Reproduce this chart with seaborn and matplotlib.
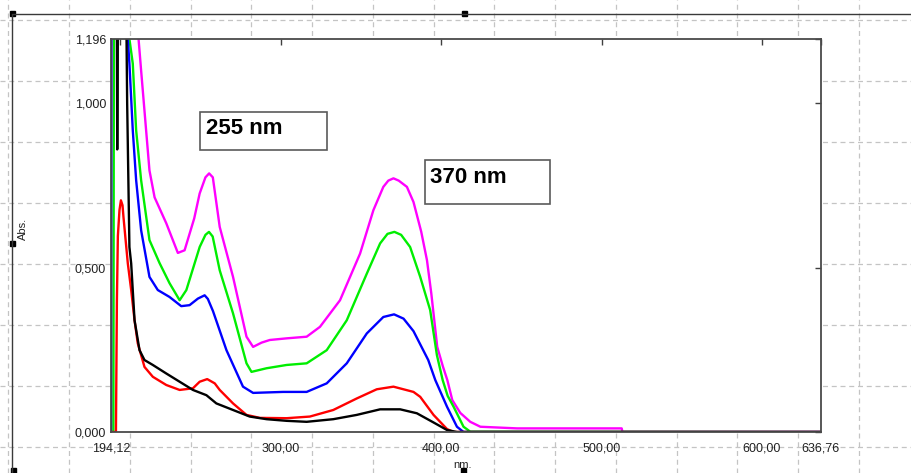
import matplotlib
matplotlib.use("Agg")
import matplotlib.pyplot as plt
import seaborn as sns
import pandas as pd
from matplotlib.patches import Rectangle

# ---------------- data ----------------
wl_magenta = [194.12, 194.5, 211.0, 211.3, 212.9, 218.1, 221.3, 228.6, 235.8, 240.0,
              246.0, 249.4, 253.0, 255.3, 257.6, 261.9, 270.2, 278.6, 282.7, 288.0,
              293.1, 303.6, 316.1, 324.4, 336.9, 349.4, 357.7, 363.9, 367.0, 370.2,
              373.5, 378.6, 382.7, 387.5, 391.1, 393.8, 397.5, 401.0, 403.8, 406.9,
              411.9, 418.1, 424.4, 447.3, 512.5, 513.0, 636.76]
abs_magenta = [0.0, 1.5, 1.5, 1.196, 1.100, 0.796, 0.714, 0.635, 0.545, 0.553,
               0.650, 0.726, 0.775, 0.787, 0.775, 0.624, 0.472, 0.290, 0.259, 0.272,
               0.280, 0.285, 0.290, 0.320, 0.401, 0.543, 0.675, 0.746, 0.765, 0.772,
               0.765, 0.746, 0.700, 0.610, 0.523, 0.422, 0.259, 0.200, 0.158, 0.097,
               0.058, 0.031, 0.016, 0.011, 0.011, 0.0, 0.0]

wl_green = [194.12, 195.6, 196.0, 205.0, 205.6, 207.7, 209.8, 212.9, 218.1, 224.4,
            230.6, 236.9, 241.1, 249.4, 253.0, 255.2, 257.5, 261.9, 270.2, 278.6,
            281.7, 291.1, 303.6, 316.1, 328.6, 341.1, 353.6, 361.9, 366.5, 370.8,
            375.0, 380.6, 386.9, 393.1, 397.3, 400.9, 404.0, 407.7, 413.9, 418.1,
            636.76]
abs_green = [0.0, 0.0, 1.5, 1.5, 1.196, 1.121, 0.918, 0.766, 0.584, 0.514,
             0.453, 0.401, 0.432, 0.563, 0.600, 0.609, 0.595, 0.492, 0.361, 0.209,
             0.183, 0.194, 0.204, 0.209, 0.249, 0.340, 0.482, 0.574, 0.603, 0.609,
             0.600, 0.563, 0.472, 0.371, 0.234, 0.158, 0.110, 0.077, 0.016, 0.001,
             0.0]

wl_blue = [194.12, 194.3, 203.8, 204.6, 205.6, 207.7, 209.8, 212.9, 218.1, 223.3,
           230.6, 237.9, 243.1, 248.3, 252.5, 254.5, 257.7, 266.1, 276.4, 282.7,
           301.4, 316.1, 328.6, 341.1, 353.6, 363.9, 370.6, 376.5, 382.7, 391.9,
           396.3, 403.6, 409.8, 413.9, 636.76]
abs_blue = [0.0, 1.5, 1.5, 1.196, 1.121, 0.918, 0.766, 0.614, 0.472, 0.432,
            0.411, 0.383, 0.386, 0.406, 0.416, 0.405, 0.368, 0.249, 0.138, 0.119,
            0.122, 0.122, 0.148, 0.209, 0.300, 0.350, 0.358, 0.345, 0.307, 0.219,
            0.158, 0.077, 0.016, 0.0, 0.0]

wl_red = [194.12, 197.2, 197.8, 198.4, 199.4, 200.3, 201.3, 201.9, 204.6, 206.7,
          208.8, 210.8, 215.0, 220.2, 228.6, 236.9, 245.2, 249.4, 254.1, 258.8,
          261.9, 270.2, 278.6, 286.9, 303.6, 318.1, 332.7, 347.3, 359.8, 370.2,
          382.7, 386.9, 395.2, 403.6, 407.7, 636.76]
abs_red = [0.0, 0.0, 0.40, 0.596, 0.675, 0.705, 0.690, 0.654, 0.513, 0.432,
           0.340, 0.270, 0.198, 0.168, 0.143, 0.128, 0.133, 0.153, 0.161, 0.148,
           0.128, 0.087, 0.052, 0.043, 0.042, 0.047, 0.067, 0.102, 0.130, 0.138,
           0.122, 0.107, 0.052, 0.009, 0.0, 0.0]

wl_black = [194.12, 197.6, 198.0, 198.6, 203.2, 204.2, 205.0, 205.6, 206.7, 208.8,
            211.9, 215.0, 220.2, 228.6, 236.9, 245.2, 253.6, 259.8, 270.2, 280.6,
            291.1, 303.6, 316.1, 332.7, 347.3, 361.9, 374.4, 384.8, 395.2, 403.6,
            409.8, 636.76]
abs_black = [1.5, 1.5, 0.86, 1.5, 1.5, 1.0, 0.75, 0.563, 0.513, 0.340,
             0.249, 0.219, 0.204, 0.178, 0.153, 0.128, 0.112, 0.087, 0.067, 0.047,
             0.039, 0.034, 0.031, 0.039, 0.052, 0.069, 0.069, 0.057, 0.029, 0.006,
             0.0, 0.0]

series_names = ["magenta", "green", "blue", "red", "black"]
series_colors = ["#ff00ff", "#00ee00", "#0000ff", "#ff0000", "#000000"]

x_ticks = [194.12, 300.0, 400.0, 500.0, 600.0, 636.76]
x_tick_labels = ["194,12", "300,00", "400,00", "500,00", "600,00", "636,76"]
y_ticks = [0.0, 0.5, 1.0, 1.196]
y_tick_labels = ["0,000", "0,500", "1,000", "1,196"]

annotations = [("255 nm", 249.4, 328.9, 0.857, 0.974, 253.6, 0.925),
               ("370 nm", 389.6, 467.5, 0.695, 0.827, 393.1, 0.776)]

# ---------------- build long table ----------------
frames = []
for name, wl, ab in zip(series_names,
                        [wl_magenta, wl_green, wl_blue, wl_red, wl_black],
                        [abs_magenta, abs_green, abs_blue, abs_red, abs_black]):
    frames.append(pd.DataFrame({"nm": wl, "Abs": ab, "series": name}))
df = pd.concat(frames, ignore_index=True)

# ---------------- style ----------------
sns.set_style("white")
plt.rcParams["font.family"] = ["Liberation Sans", "DejaVu Sans"]

W, H = 912, 473
fig = plt.figure(figsize=(W / 100, H / 100), dpi=100)
fig.patch.set_facecolor("white")

# background "worksheet" grid
bg = fig.add_axes([0, 0, 1, 1], zorder=0)
bg.set_xlim(0, W)
bg.set_ylim(H, 0)
bg.axis("off")
gx0, gdx = 69.0, 60.77
gy0, gdy = 20.0, 60.95
for k in range(-1, 15):
    bg.axvline(gx0 + k * gdx, color="#c4c4c4", lw=0.9, ls=(0, (4, 3)))
for k in range(0, 8):
    bg.axhline(gy0 + k * gdy, color="#c4c4c4", lw=0.9, ls=(0, (4, 3)))
bg.plot([12, W], [14, 14], color="#3a3a3a", lw=1.0)
bg.plot([12, 12], [14, H], color="#3a3a3a", lw=1.0)
for (hx, hy) in [(13, 14), (465, 14), (13, 243), (14, 470), (464, 470)]:
    bg.add_patch(Rectangle((hx - 2.5, hy - 2.5), 5, 5, color="black"))
bg.text(23, 229, "Abs.", rotation=90, ha="center", va="center", fontsize=8,
        color="#222222")
bg.text(463, 465, "nm.", ha="center", va="center", fontsize=8, color="#222222")

# main plot
ax = fig.add_axes([111 / W, (H - 432) / H, 710 / W, 393 / H], zorder=2)
ax.set_facecolor("white")
sns.lineplot(data=df, x="nm", y="Abs", hue="series", hue_order=series_names,
             palette=series_colors, sort=False, estimator=None, lw=1.7,
             legend=False, ax=ax)

ax.set_xlim(194.12, 636.76)
ax.set_ylim(0.0, 1.196)
ax.set_xlabel("")
ax.set_ylabel("")
ax.set_xticks(x_ticks)
ax.set_xticklabels(x_tick_labels)
ax.set_xticks([200.0], minor=True)
ax.set_yticks(y_ticks)
ax.set_yticklabels(y_tick_labels)
ax.tick_params(axis="both", which="both", direction="in", length=4.5, width=1.0,
               color="#404040", labelsize=9, labelcolor="#222222",
               top=True, right=True)
ax.tick_params(axis="x", pad=7.5)
ax.tick_params(axis="y", pad=3.5)
for s in ax.spines.values():
    s.set_color("#4a4a4a")
    s.set_linewidth(1.3)
    s.set_visible(True)

for label, x0, x1, y0, y1, tx, ty in annotations:
    ax.add_patch(Rectangle((x0, y0), x1 - x0, y1 - y0, facecolor="white",
                           edgecolor="#5a5a5a", lw=1.2, zorder=5))
    ax.text(tx, ty, label, ha="left", va="center", fontsize=16,
            fontweight="bold", color="black", zorder=6)

fig.savefig("out.png", dpi=100)
